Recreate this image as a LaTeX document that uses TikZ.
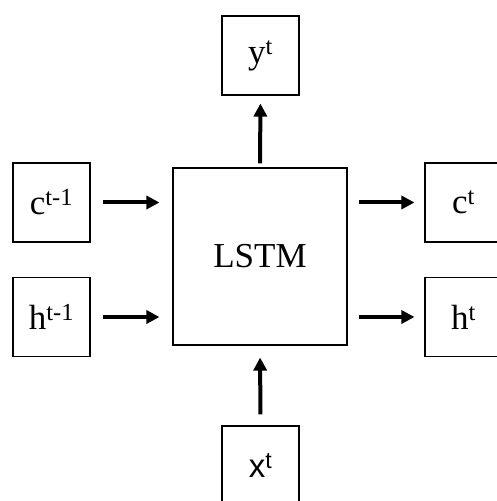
\documentclass[tikz,border=0pt]{standalone}
\usepackage{fontspec}
\setmainfont{Liberation Serif}
\newfontfamily\xsans{Liberation Sans}
\usetikzlibrary{arrows.meta}
\begin{document}
\begin{tikzpicture}[x=1pt, y=1pt,
        cell/.style={rectangle, draw, line width=1.1pt, minimum width=77pt, minimum height=79pt, inner sep=0pt, font=\fontsize{35}{40}\selectfont},
        core/.style={cell, minimum width=174pt, minimum height=177pt},
        flow/.style={-{Triangle[length=13pt, width=13pt]}, line width=4pt}
    ]
        \useasboundingbox (0,0) rectangle (496,501);

        % central cell
        \node[core] (lstm) at (260,244.5) {LSTM};

        % inputs on the left
        \node[cell] (cprev) at (51.5,298.5) {c\textsuperscript{t-1}};
        \node[cell] (hprev) at (51.5,184) {h\textsuperscript{t-1}};

        % outputs on the right
        \node[cell] (cnext) at (463.5,298.5) {c\textsuperscript{t}};
        \node[cell] (hnext) at (463.5,184) {h\textsuperscript{t}};

        % output on top, input at the bottom
        \node[cell] (yout) at (260.5,445.5) {y\textsuperscript{t}};
        \node[cell, font=\fontsize{33}{40}\xsans] (xin) at (260.5,35.5) {x\textsuperscript{t}};

        % arrows
        \draw[flow, shorten <=12pt, shorten >=13pt] (cprev.east) -- (lstm.west |- cprev.east);
        \draw[flow, shorten <=12pt, shorten >=13pt] (hprev.east) -- (lstm.west |- hprev.east);
        \draw[flow, shorten <=11pt, shorten >=10pt] (lstm.east |- cnext.west) -- (cnext.west);
        \draw[flow, shorten <=11pt, shorten >=10pt] (lstm.east |- hnext.west) -- (hnext.west);
        \draw[flow, shorten <=4pt, shorten >=8pt] (lstm.north) -- (yout.south);
        \draw[flow, shorten <=11pt, shorten >=12pt] (xin.north) -- (lstm.south);

    \end{tikzpicture}
\end{document}
